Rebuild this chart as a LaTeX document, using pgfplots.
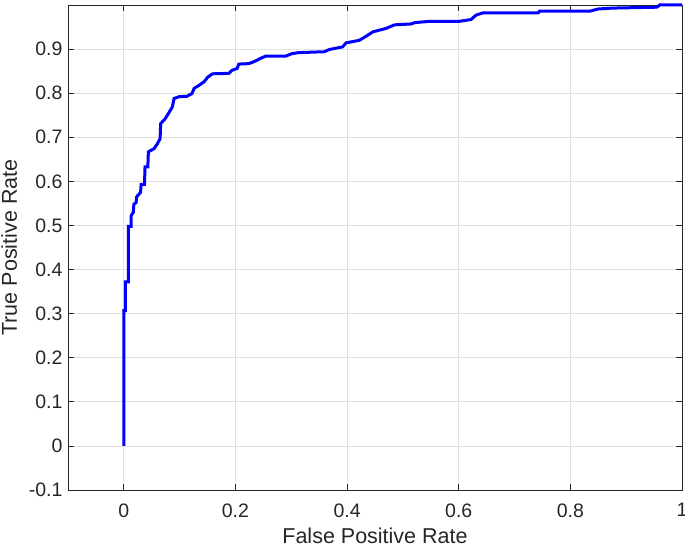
\documentclass[border=0pt]{standalone}
\usepackage{fontspec}
\setmainfont{Liberation Sans}
\usepackage{pgfplots}
\pgfplotsset{compat=1.18}

\definecolor{gridgray}{RGB}{225,225,225}
\definecolor{axgray}{RGB}{38,38,38}

\begin{document}
\begin{tikzpicture}
\begin{axis}[
    scale only axis,
    width=614pt,
    height=485pt,
    xmin=-0.1, xmax=1,
    ymin=-0.1, ymax=1,
    xtick={0,0.2,...,1},
    ytick={-0.1,0,0.1,...,0.91},
    /pgf/number format/assume math mode=true,
    /pgf/number format/fixed,
    tick align=inside,
    major tick length=6pt,
    xmajorgrids, ymajorgrids,
    grid style={gridgray, line width=0.8pt},
    axis line style={axgray, line width=0.8pt},
    tick style={axgray, line width=0.8pt},
    ticklabel style={text=axgray, font=\fontsize{19.5}{23}\selectfont},
    xticklabel style={yshift=-10pt},
    yticklabel style={xshift=-2pt},
    xlabel={False Positive Rate},
    ylabel={True Positive Rate},
    label style={text=axgray, font=\fontsize{21.5}{25}\selectfont},
    xlabel style={yshift=-4pt},
    ylabel style={yshift=5pt},
    clip=false,
]
\addplot[color=blue, line width=3pt, line join=miter] coordinates {
(0,0) (0,0.307) (0.003,0.307) (0.003,0.372) (0.008,0.372) (0.008,0.498)
(0.013,0.498) (0.013,0.522) (0.017,0.530) (0.018,0.548) (0.022,0.552)
(0.023,0.565) (0.030,0.575) (0.031,0.593) (0.037,0.593) (0.038,0.633)
(0.043,0.633) (0.044,0.667) (0.054,0.674) (0.060,0.685) (0.065,0.697)
(0.066,0.731) (0.074,0.742) (0.080,0.754) (0.087,0.769) (0.090,0.788)
(0.099,0.792) (0.113,0.793) (0.122,0.799) (0.126,0.811) (0.135,0.818)
(0.144,0.826) (0.150,0.836) (0.159,0.844) (0.188,0.845) (0.194,0.852)
(0.203,0.856) (0.206,0.866) (0.224,0.867) (0.236,0.873) (0.245,0.879)
(0.254,0.884) (0.290,0.884) (0.302,0.890) (0.314,0.892) (0.359,0.894)
(0.368,0.899) (0.392,0.905) (0.398,0.914) (0.422,0.920) (0.434,0.929)
(0.446,0.939) (0.458,0.943) (0.470,0.947) (0.485,0.955) (0.515,0.957)
(0.521,0.960) (0.548,0.963) (0.601,0.963) (0.622,0.967) (0.631,0.977)
(0.643,0.982) (0.742,0.982) (0.745,0.986) (0.835,0.986) (0.850,0.991)
(0.876,0.993) (0.955,0.995) (0.960,1.0) (1.000,1.0)
};
\end{axis}
\pgfresetboundingbox
\path ([shift={(-68pt,-57pt)}]current axis.south west)
      ([shift={(3pt,5pt)}]current axis.north east);
\end{tikzpicture}
\end{document}
